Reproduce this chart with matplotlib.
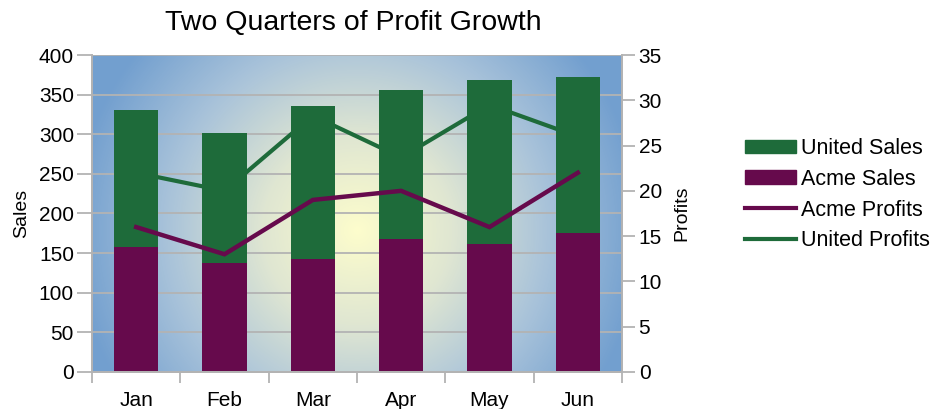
import numpy as np
import matplotlib
matplotlib.use("Agg")
import matplotlib.pyplot as plt
from matplotlib.colors import LinearSegmentedColormap
from matplotlib.patches import Patch
from matplotlib.lines import Line2D

plt.rcParams['font.family'] = ['Liberation Sans', 'DejaVu Sans']

# monthly figures
months = ["Jan", "Feb", "Mar", "Apr", "May", "Jun"]
acme_sales = [158, 137, 142, 168, 162, 175]
united_sales = [172, 165, 194, 188, 206, 197]
acme_profits = [16, 13, 19, 20, 16, 22]
united_profits = [22, 20, 28.3, 23.7, 29.5, 26]

GREEN = "#1e6b3a"
PURPLE = "#660a4c"
GRID = "#b3b3b3"

fig = plt.figure(figsize=(9.38, 4.09), dpi=100)
ax = fig.add_axes([0.0981, 0.0905, 0.5650, 0.775])
ax2 = ax.twinx()

# radial background, light yellow in the middle fading to blue
bg_cmap = LinearSegmentedColormap.from_list("bg", ["#fdfdcc", "#dfe6d2", "#a9c3da", "#729fcf"])
w, h = 530, 317
xx, yy = np.meshgrid(np.arange(w), np.arange(h))
dist = np.hypot(xx - 265, yy - 175) / 285
ax.imshow(np.clip(dist, 0, 1), cmap=bg_cmap, vmin=0, vmax=1, extent=(-0.5, 5.5, 0, 400),
          aspect="auto", zorder=0, interpolation="bilinear")

x = np.arange(len(months))
for yv in range(50, 401, 50):
    ax.axhline(yv, color=GRID, lw=1.3, zorder=1)
ax.bar(x, acme_sales, width=0.5, color=PURPLE, zorder=2)
ax.bar(x, united_sales, width=0.5, bottom=acme_sales, color=GREEN, zorder=2)

ax2.plot(x, united_profits, color=GREEN, lw=3, solid_joinstyle="miter")
ax2.plot(x, acme_profits, color=PURPLE, lw=3.2, solid_joinstyle="miter")

ax.set_xlim(-0.5, 5.5)
ax.set_ylim(0, 400)
ax2.set_ylim(0, 35)
ax.set_yticks(range(0, 401, 50))
ax2.set_yticks(range(0, 36, 5))
ax.set_xticks(x)
ax.set_xticklabels(months)
ax.set_xticks(np.arange(-0.5, 6, 1), minor=True)
ax.tick_params(axis="x", which="major", length=0, pad=14, labelsize=15)
ax.tick_params(axis="x", which="minor", length=8, color=GRID, width=1.3)
ax.tick_params(axis="y", length=11, color=GRID, width=1.3, labelsize=15, pad=2)
ax2.tick_params(axis="y", length=9, color=GRID, width=1.3, labelsize=15, pad=3)

for a in (ax, ax2):
    a.spines["top"].set_visible(False)
    for side in ("left", "right", "bottom"):
        a.spines[side].set_color(GRID)
        a.spines[side].set_linewidth(1.3)

ax.set_ylabel("Sales", fontsize=14, labelpad=6)
ax2.set_ylabel("Profits", fontsize=14, labelpad=8)
fig.suptitle("Two Quarters of Profit Growth", fontsize=20.5, x=0.377, y=0.975)

handles = [
    Patch(color=GREEN, label="United Sales"),
    Patch(color=PURPLE, label="Acme Sales"),
    Line2D([], [], color=PURPLE, lw=3, label="Acme Profits"),
    Line2D([], [], color=GREEN, lw=3, label="United Profits"),
]
fig.legend(handles=handles, loc="center left", bbox_to_anchor=(0.794, 0.524), frameon=False,
           fontsize=15.5, handlelength=2.4, handleheight=0.6, handletextpad=0.23, labelspacing=0.45,
           borderpad=0, borderaxespad=0)

fig.savefig("out.png", dpi=100)
